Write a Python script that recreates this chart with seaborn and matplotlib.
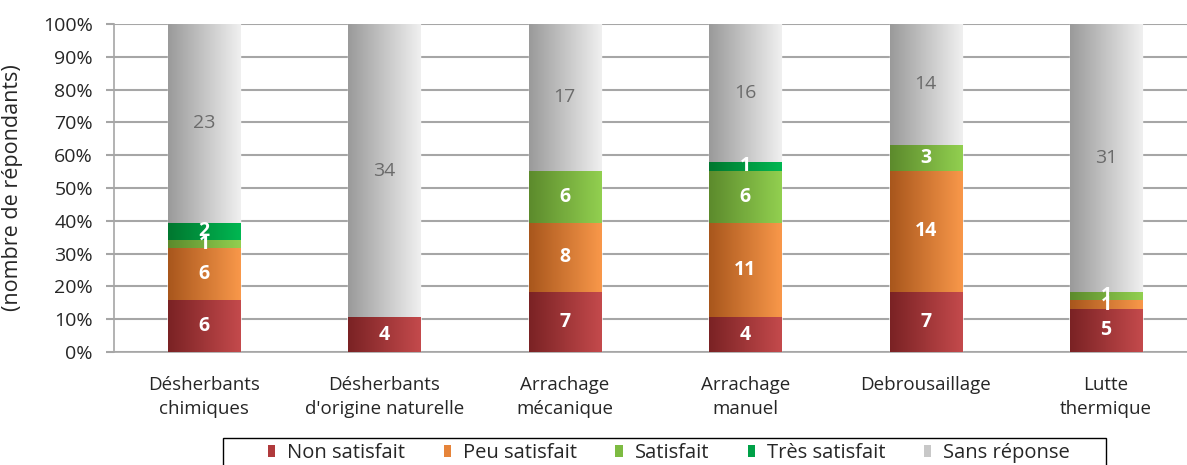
import numpy as np
import pandas as pd
import matplotlib
matplotlib.use("Agg")
import matplotlib.pyplot as plt
import seaborn as sns
from matplotlib.colors import LinearSegmentedColormap
from matplotlib.patches import Patch, Rectangle

categories = ["Désherbants\nchimiques", "Désherbants\nd'origine naturelle", "Arrachage\nmécanique",
              "Arrachage\nmanuel", "Debrousaillage", "Lutte\nthermique"]
series_names = ["Non satisfait", "Peu satisfait", "Satisfait", "Très satisfait", "Sans réponse"]
non_satisfait = [6, 4, 7, 4, 7, 5]
peu_satisfait = [6, 0, 8, 11, 14, 1]
satisfait = [1, 0, 6, 6, 3, 1]
tres_satisfait = [2, 0, 0, 1, 0, 0]
sans_reponse = [23, 34, 17, 16, 14, 31]
yticks = [0, 10, 20, 30, 40, 50, 60, 70, 80, 90, 100]

grad_colors = [("#7a2224", "#c44a4c"), ("#a8561c", "#f9984a"), ("#5c8a2c", "#92d050"),
               ("#00772f", "#00b752"), ("#9a9a9a", "#f0f0f0")]
legend_colors = ["#b03a3c", "#e6843a", "#7dbb42", "#00a148", "#c8c8c8"]

sns.set_theme(style="white")
plt.rcParams["font.family"] = ["Open Sans", "DejaVu Sans"]

counts = np.array([non_satisfait, peu_satisfait, satisfait, tres_satisfait, sans_reponse], dtype=float)
totals = counts.sum(axis=0)
pct = counts / totals * 100
cum = np.cumsum(pct, axis=0)

fig = plt.figure(figsize=(11.87, 4.65), dpi=100)
ax = fig.add_axes([113.8 / 1187, 113 / 465, (1196.2 - 113.8) / 1187, 328 / 465])

# draw cumulative bars from top series down (overdraw stacking)
bar_extents = {}
for i in range(len(series_names) - 1, -1, -1):
    df = pd.DataFrame({"cat": categories, "val": cum[i]})
    before = len(ax.patches)
    sns.barplot(data=df, x="cat", y="val", color=legend_colors[i], width=0.4,
                saturation=1, ax=ax, order=categories, zorder=2)
    bar_extents[i] = [(p.get_x(), p.get_x() + p.get_width()) for p in ax.patches[before:]]

# gradient overlay per visible segment
grad = np.linspace(0, 1, 256).reshape(1, -1)
for i in range(len(series_names)):
    cmap = LinearSegmentedColormap.from_list(f"g{i}", grad_colors[i])
    for j, (x0, x1) in enumerate(bar_extents[i]):
        lo = cum[i - 1][j] if i > 0 else 0
        hi = cum[i][j]
        if hi - lo <= 0:
            continue
        ax.imshow(grad, extent=(x0, x1, lo, hi), aspect="auto", cmap=cmap,
                  interpolation="bilinear", zorder=3)

# labels
for i in range(len(series_names)):
    for j in range(len(categories)):
        v = counts[i][j]
        if v <= 0:
            continue
        lo = cum[i - 1][j] if i > 0 else 0
        mid = (lo + cum[i][j]) / 2
        if i == 4:
            ax.text(j, mid, f"{int(v)}", ha="center", va="center", color="#6b6b6b",
                    fontsize=14, zorder=5)
        else:
            ax.text(j, mid, f"{int(v)}", ha="center", va="center", color="white",
                    fontsize=14, fontweight="bold", zorder=5)

ax.set_xlim(-0.5, len(categories) - 0.5)
ax.set_ylim(0, 100)
ax.set_yticks(yticks)
ax.set_yticklabels([f"{t}%" for t in yticks], fontsize=14, color="#262626")
ax.set_xticks(range(len(categories)))
ax.set_xticklabels(categories, fontsize=13.5, color="#262626", linespacing=1.45)
ax.set_xticks(np.arange(-0.5, len(categories), 1), minor=True)
ax.tick_params(axis="x", which="major", length=0, pad=17)
ax.tick_params(axis="x", which="minor", length=6, width=1, color="#9a9a9a", direction="out")
ax.tick_params(axis="y", which="major", length=6, width=1.5, color="#a6a6a6", direction="out", pad=9, left=True)
ax.set_xlabel("")
ax.set_ylabel("(nombre de répondants)", fontsize=15.5, color="#262626")
ax.yaxis.set_label_coords((23 - 113.8) / 1082.4, 0.5)
ax.yaxis.grid(True, color="#a6a6a6", linewidth=1.5)
ax.set_axisbelow(True)
for s in ["top", "right"]:
    ax.spines[s].set_visible(False)
ax.spines["left"].set_color("#a6a6a6")
ax.spines["bottom"].set_color("#a6a6a6")
ax.spines["left"].set_linewidth(1.2)
ax.spines["bottom"].set_linewidth(1.2)

handles = [Patch(facecolor=c, edgecolor="none") for c in legend_colors]
leg = fig.legend(handles, series_names, loc="center", bbox_to_anchor=(669 / 1187, 1 - 453 / 465),
                 ncol=5, frameon=False, fontsize=14.5, handlelength=0.37, handleheight=0.6,
                 handletextpad=0.6, columnspacing=1.9, borderpad=0, borderaxespad=0)
for t in leg.get_texts():
    t.set_color("#262626")
fig.add_artist(Rectangle((223 / 1187, -0.05), (1106 - 223) / 1187, (465 - 438) / 465 + 0.05,
                         transform=fig.transFigure, fill=False, edgecolor="#000000", linewidth=1.0))

fig.savefig("out.png", dpi=100)
